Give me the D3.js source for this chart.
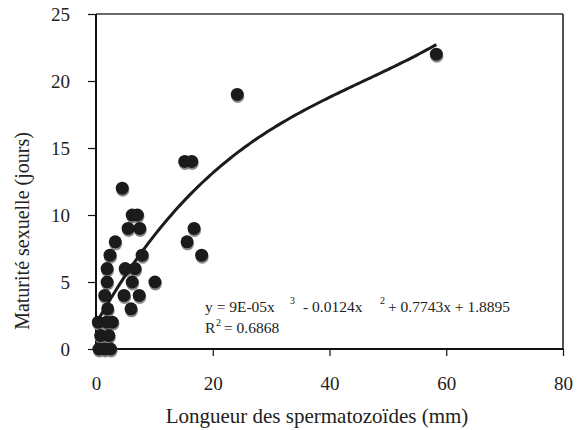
<!DOCTYPE html>
<html>
<head>
<meta charset="utf-8">
<script src="https://cdn.jsdelivr.net/npm/d3@7"></script>
<style>
  body { margin: 0; background: #fff; }
</style>
</head>
<body>
<svg id="chart" width="579" height="430"></svg>
<script>
// sperm length (mm) vs sexual maturity (days)
const lengths = [0.5, 1.5, 2.5, 0.8, 2.2, 0.4, 1.8, 2.8, 2.0, 6.0,
                 1.5, 4.8, 7.4, 1.9, 6.2, 10.1, 1.9, 5.0, 6.7, 2.4,
                 7.9, 18.1, 3.3, 15.6, 5.5, 7.5, 16.8, 6.2, 7.1, 4.5,
                 15.2, 16.4, 24.2, 58.3];
const maturity = [0, 0, 0, 1, 1, 2, 2, 2, 3, 3,
                  4, 4, 4, 5, 5, 5, 6, 6, 6, 7,
                  7, 7, 8, 8, 9, 9, 9, 10, 10, 12,
                  14, 14, 19, 22];

const xTicks = [0, 20, 40, 60, 80];
const yTicks = [0, 5, 10, 15, 20, 25];

// polynomial trendline coefficients as printed on the chart (x^3, x^2, x, c)
const trendCoef = [9e-5, -0.0124, 0.7743, 1.8895];

const FONT = "Liberation Serif";
const svg = d3.select("#chart");
const plotL = 96, plotR = 563, plotT = 14, plotB = 349;

const x = d3.scaleLinear().domain([0, 80]).range([plotL, plotR]);
const y = d3.scaleLinear().domain([0, 25]).range([plotB, plotT]);

// frame: gray top, thin right
svg.append("rect")
  .attr("x", plotL).attr("y", plotT - 1)
  .attr("width", plotR - plotL).attr("height", 2)
  .attr("fill", "#6a6a6a");
svg.append("rect")
  .attr("x", plotR - 0.75).attr("y", plotT)
  .attr("width", 1.5).attr("height", plotB - plotT)
  .attr("fill", "#1a1a1a");

// axes
const xAxis = svg.append("g")
  .attr("transform", "translate(0," + plotB + ")")
  .call(d3.axisBottom(x).tickValues(xTicks).tickSize(7).tickPadding(21));
const yAxis = svg.append("g")
  .attr("transform", "translate(" + plotL + ",0)")
  .call(d3.axisLeft(y).tickValues(yTicks).tickSize(8).tickPadding(18));

[xAxis, yAxis].forEach(g => {
  g.attr("font-family", FONT).attr("font-size", 19);
  g.select(".domain").attr("stroke", "#111").attr("stroke-width", 2);
  g.selectAll(".tick line").attr("stroke", "#111").attr("stroke-width", 1.2);
  g.selectAll(".tick text").attr("fill", "#222");
});
yAxis.select(".domain").attr("d", "M0," + plotT + "V" + plotB);
xAxis.select(".domain").attr("d", "M" + plotL + ",0H" + plotR);

// axis titles
svg.append("text")
  .attr("x", 317).attr("y", 423)
  .attr("text-anchor", "middle")
  .attr("fill", "#222")
  .attr("font-family", FONT)
  .attr("font-size", 21)
  .text("Longueur des spermatozoïdes (mm)");
svg.append("text")
  .attr("transform", "translate(29,231) rotate(-90)")
  .attr("text-anchor", "middle")
  .attr("fill", "#222")
  .attr("font-family", FONT)
  .attr("font-size", 20)
  .text("Maturité sexuelle (jours)");

// points: gray shadow then dark disc
const pts = lengths.map((v, i) => ({ x: v, y: maturity[i] }));
svg.append("g").selectAll("circle")
  .data(pts).enter().append("circle")
  .attr("cx", d => x(d.x) + 0.5)
  .attr("cy", d => y(d.y) + 2)
  .attr("r", 6.5)
  .attr("fill", "#8a8a8a");
svg.append("g").selectAll("circle")
  .data(pts).enter().append("circle")
  .attr("cx", d => x(d.x))
  .attr("cy", d => y(d.y))
  .attr("r", 6.5)
  .attr("fill", "#1b1b1b");

// trendline
const poly = v => trendCoef[0] * v * v * v + trendCoef[1] * v * v + trendCoef[2] * v + trendCoef[3];
const xs = d3.range(d3.min(lengths), d3.max(lengths), 0.5).concat([d3.max(lengths)]);
svg.append("path")
  .datum(xs)
  .attr("fill", "none")
  .attr("stroke", "#1b1b1b")
  .attr("stroke-width", 3)
  .attr("d", d3.line().x(v => x(v)).y(v => y(poly(v))).curve(d3.curveMonotoneX));

// equation
const eq = svg.append("g").attr("fill", "#222")
  .attr("font-family", FONT).attr("font-size", 15.5);
eq.append("text").attr("x", 205).attr("y", 312).text("y = 9E-05x");
eq.append("text").attr("x", 290).attr("y", 304).attr("font-size", 10).text("3");
eq.append("text").attr("x", 303).attr("y", 312).text("- 0.0124x");
eq.append("text").attr("x", 380).attr("y", 304).attr("font-size", 10).text("2");
eq.append("text").attr("x", 388).attr("y", 312).text("+ 0.7743x + 1.8895");
eq.append("text").attr("x", 205).attr("y", 333).text("R");
eq.append("text").attr("x", 216).attr("y", 326).attr("font-size", 10).text("2");
eq.append("text").attr("x", 224).attr("y", 333).text("= 0.6868");
</script>
</body>
</html>
